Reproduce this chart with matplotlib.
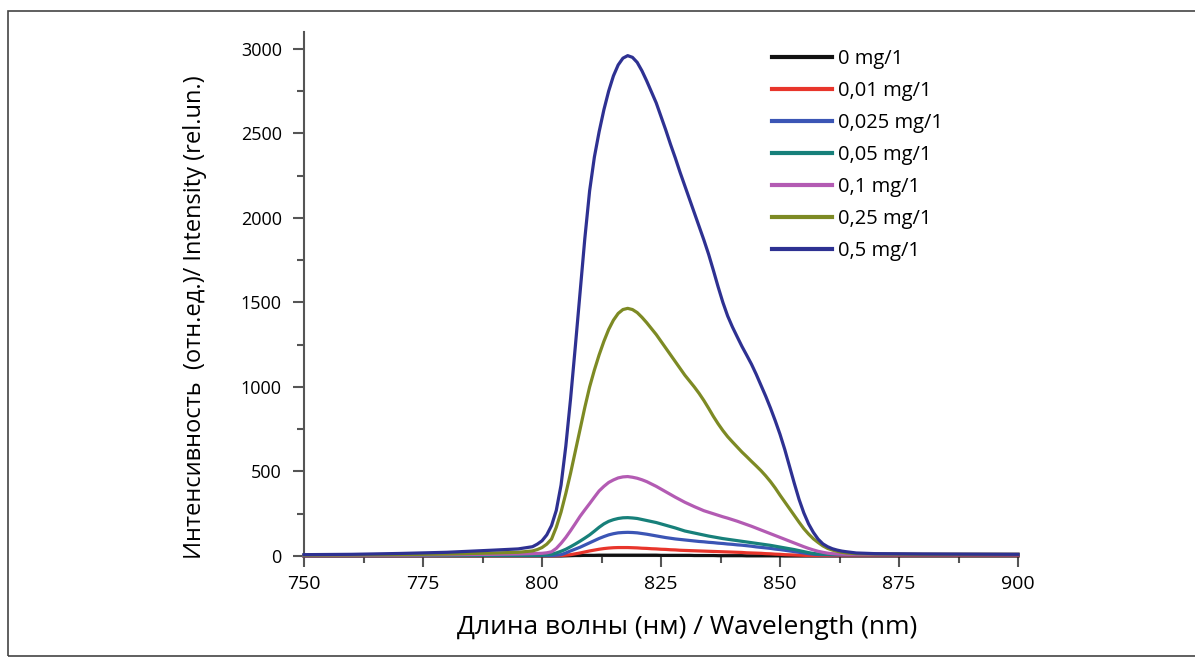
import matplotlib
matplotlib.use("Agg")
import matplotlib.pyplot as plt
from matplotlib.patches import Rectangle
from matplotlib.ticker import MultipleLocator

plt.rcParams['font.family'] = ['Open Sans', 'DejaVu Sans']

# wavelength grid (nm)
wl = [750, 760, 770, 780, 790, 795,
      798, 799, 800, 801, 802, 803, 804, 805, 806, 807,
      808, 809, 810, 811, 812, 813, 814, 815, 816, 817,
      818, 819, 820, 821, 822, 823, 824, 825, 826, 827,
      828, 829, 830, 831, 832, 833, 834, 835, 836, 837,
      838, 839, 840, 841, 842, 843, 844, 845, 846, 847,
      848, 849, 850, 851, 852, 853, 854, 855, 856, 857,
      858, 859, 860, 861, 862, 863, 864,
      866, 870, 880, 890, 900]

# intensity, one list per concentration
c0 = [0, 0, 0, 0, 0, 0,
      0, 0, 0, 0, 0, 0, 0, 1, 2, 3,
      3, 4, 4, 4, 5, 5, 5, 5, 5, 5,
      5, 5, 5, 5, 5, 5, 5, 4, 4, 4,
      4, 4, 4, 4, 3, 3, 3, 3, 3, 2,
      2, 2, 2, 2, 2, 1, 1, 1, 1, 1,
      1, 1, 1, 0, 0, 0, 0, 0, 0, 0,
      0, 0, 0, 0, 0, 0, 0,
      0, 0, 0, 0, 0]
c001 = [1, 1, 1, 2, 2, 2,
        2, 2, 2, 2, 2, 2, 3, 5, 8, 13,
        18, 24, 30, 35, 40, 44, 47, 49, 50, 50,
        50, 49, 48, 46, 45, 43, 42, 40, 39, 37,
        36, 34, 33, 32, 31, 30, 29, 28, 27, 26,
        25, 24, 23, 22, 21, 19, 18, 17, 16, 14,
        13, 11, 10, 8, 7, 6, 5, 4, 3, 3,
        3, 3, 3, 3, 3, 3, 3,
        3, 3, 3, 3, 3]
c0025 = [2, 2, 2, 3, 3, 3,
         3, 3, 3, 3, 3, 5, 8, 18, 30, 41,
         52, 65, 78, 91, 104, 115, 125, 132, 137, 139,
         140, 139, 137, 133, 129, 124, 119, 114, 109, 105,
         101, 98, 95, 92, 89, 86, 84, 81, 79, 76,
         74, 71, 69, 66, 64, 61, 58, 54, 51, 48,
         45, 41, 38, 34, 30, 26, 22, 18, 14, 11,
         9, 8, 8, 7, 7, 7, 7,
         7, 7, 7, 7, 7]
c005 = [3, 3, 3, 3, 4, 4,
        4, 4, 5, 7, 10, 18, 28, 40, 55, 71,
        88, 106, 125, 147, 170, 190, 205, 215, 222, 226,
        227, 225, 222, 216, 210, 204, 198, 190, 182, 174,
        166, 157, 148, 142, 136, 130, 124, 118, 113, 108,
        103, 99, 95, 91, 87, 83, 79, 75, 71, 67,
        63, 58, 53, 48, 43, 38, 32, 26, 20, 15,
        12, 11, 10, 9, 9, 9, 9,
        9, 9, 9, 9, 9]
c01 = [3, 4, 5, 7, 10, 12,
       14, 15, 16, 19, 25, 45, 75, 110, 150, 192,
       235, 273, 310, 348, 385, 412, 435, 450, 462, 468,
       470, 466, 460, 451, 440, 426, 412, 396, 380, 364,
       348, 333, 318, 305, 292, 280, 268, 259, 250, 241,
       232, 224, 215, 206, 196, 186, 176, 165, 154, 143,
       132, 121, 110, 99, 88, 77, 66, 55, 45, 36,
       28, 22, 17, 14, 12, 11, 10,
       10, 10, 10, 10, 10]
c025 = [5, 6, 8, 12, 18, 22,
        30, 38, 50, 70, 100, 170, 260, 370, 490, 620,
        750, 880, 1000, 1100, 1190, 1270, 1340, 1395, 1435, 1458,
        1465, 1458, 1440, 1412, 1380, 1345, 1310, 1270, 1230, 1190,
        1150, 1110, 1070, 1035, 1000, 962, 920, 874, 826, 782,
        742, 706, 675, 645, 615, 588, 560, 533, 505, 474,
        440, 402, 360, 320, 280, 240, 200, 162, 130, 102,
        80, 60, 45, 35, 28, 22, 18,
        14, 12, 10, 10, 10]
c05 = [8, 10, 15, 22, 35, 42,
       55, 70, 90, 125, 180, 270, 420, 650, 930, 1240,
       1560, 1880, 2160, 2360, 2510, 2640, 2750, 2840, 2905, 2945,
       2960, 2950, 2920, 2870, 2810, 2745, 2680, 2600, 2520, 2435,
       2355, 2270, 2190, 2110, 2030, 1950, 1870, 1785, 1690, 1592,
       1500, 1420, 1355, 1297, 1240, 1188, 1135, 1075, 1010, 945,
       875, 800, 720, 630, 530, 430, 335, 255, 190, 140,
       100, 72, 55, 43, 35, 29, 25,
       18, 14, 12, 11, 10]

series = [c0, c001, c0025, c005, c01, c025, c05]
labels = ["0 mg/1", "0,01 mg/1", "0,025 mg/1", "0,05 mg/1", "0,1 mg/1", "0,25 mg/1", "0,5 mg/1"]
colors = ["#111111", "#e8352b", "#3b55b5", "#17807a", "#b35bb3", "#7d8a24", "#2e3192"]

fig = plt.figure(figsize=(11.95, 6.58), dpi=100)
ax = fig.add_axes([0.2544, 0.155, 0.5975, 0.7964])

for vals, lab, col in zip(series, labels, colors):
    ax.plot(wl, vals, color=col, lw=2.3, label=lab, clip_on=False, zorder=3)

ax.set_xlim(750, 900)
ax.set_ylim(0, 3100)
ax.xaxis.set_major_locator(MultipleLocator(25))
ax.xaxis.set_minor_locator(MultipleLocator(12.5))
ax.yaxis.set_major_locator(MultipleLocator(500))
ax.yaxis.set_minor_locator(MultipleLocator(250))

for s in ['top', 'right']:
    ax.spines[s].set_visible(False)
for s in ['left', 'bottom']:
    ax.spines[s].set_color('#555555')
    ax.spines[s].set_linewidth(1.5)

ax.tick_params(which='major', direction='out', length=8, width=1.5, color='#555555')
ax.tick_params(which='minor', direction='out', length=5, width=1.5, color='#555555')
ax.tick_params(axis='x', pad=6, labelsize=14)
ax.tick_params(axis='y', pad=8, labelsize=13)

ax.set_xlabel("Длина волны (нм) / Wavelength (nm)", fontsize=19, va='center')
ax.set_ylabel("Интенсивность  (отн.ед.)/ Intensity (rel.un.)", fontsize=17, va='center')
ax.xaxis.set_label_coords(0.536, -0.137)
ax.yaxis.set_label_coords(-0.153, 0.456)

leg = ax.legend(loc='upper left', bbox_to_anchor=(0.655, 0.968), frameon=False,
                fontsize=14.5, handlelength=3.0, handletextpad=0.3, labelspacing=0.6,
                borderpad=0, borderaxespad=0)
for h in leg.get_lines():
    h.set_linewidth(3)

# thin frame around the whole picture (right edge runs off the image)
fig.patches.append(Rectangle((8 / 1195, 2 / 658), 1.2, 645 / 658, transform=fig.transFigure,
                             fill=False, edgecolor='#444444', lw=1.2))

fig.savefig("out.png", dpi=100)
